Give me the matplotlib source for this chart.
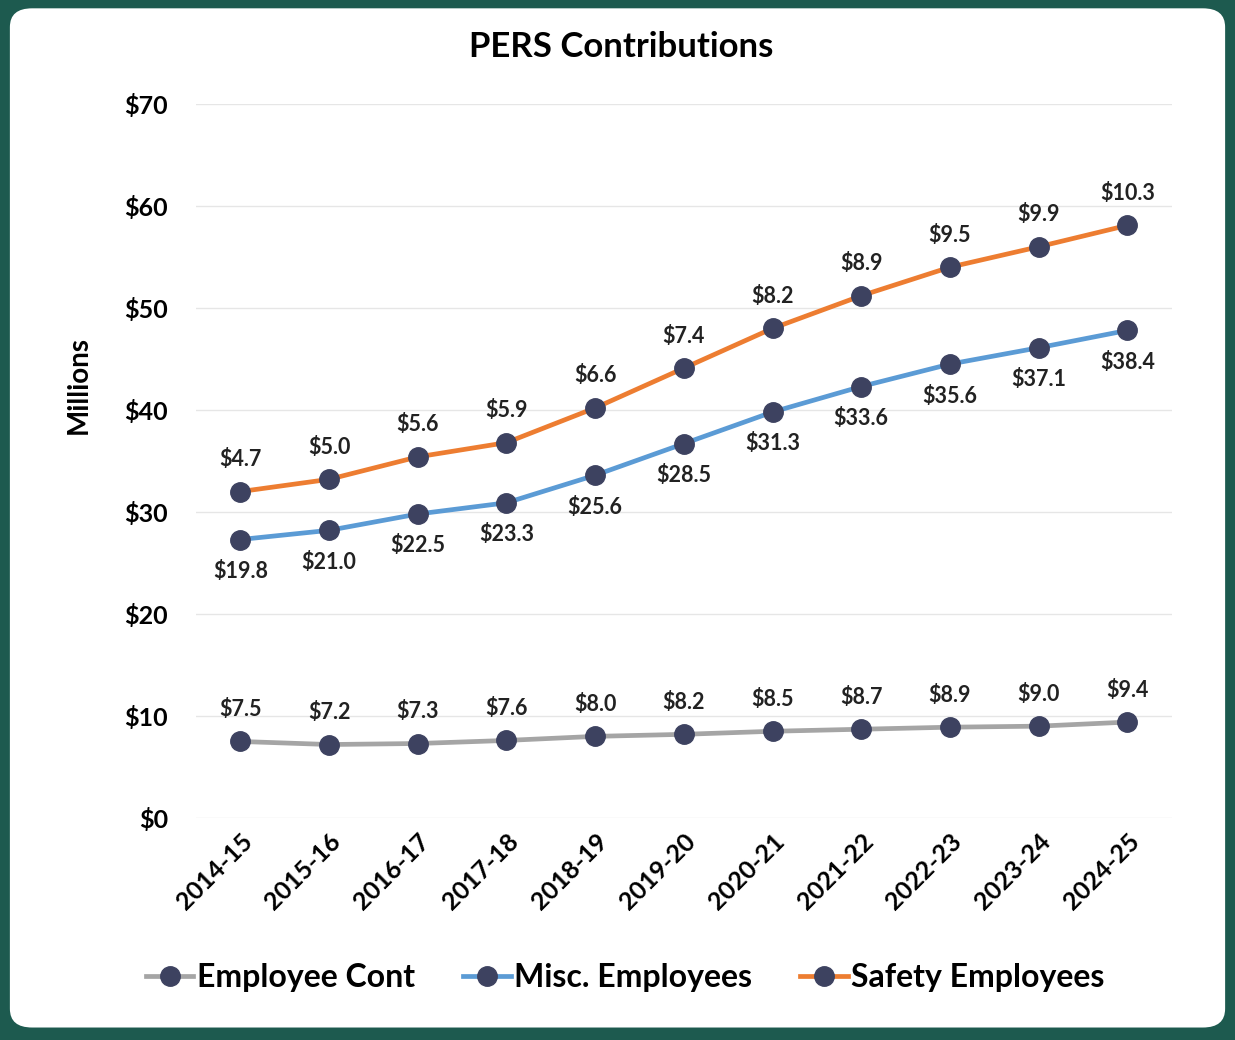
import matplotlib
matplotlib.use('Agg')
from matplotlib import pyplot as plt
from matplotlib.patches import FancyBboxPatch

plt.rcParams['font.family'] = ['Lato', 'DejaVu Sans']
plt.rcParams['font.weight'] = 'bold'

years = ['2014-15', '2015-16', '2016-17', '2017-18', '2018-19', '2019-20',
         '2020-21', '2021-22', '2022-23', '2023-24', '2024-25']
employee_cont = [7.5, 7.2, 7.3, 7.6, 8.0, 8.2, 8.5, 8.7, 8.9, 9.0, 9.4]
misc_employees = [19.8, 21.0, 22.5, 23.3, 25.6, 28.5, 31.3, 33.6, 35.6, 37.1, 38.4]
safety_employees = [4.7, 5.0, 5.6, 5.9, 6.6, 7.4, 8.2, 8.9, 9.5, 9.9, 10.3]

# stacked line chart (как в Excel)
misc_top = [a + b for a, b in zip(employee_cont, misc_employees)]
safety_top = [a + b for a, b in zip(misc_top, safety_employees)]

fig = plt.figure(figsize=(12.35, 10.4), dpi=100)
fig.patch.set_facecolor('#1d5a4f')
card = FancyBboxPatch((0.008, 0.012), 0.984, 0.98,
                      boxstyle='round,pad=0,rounding_size=0.018',
                      transform=fig.transFigure, facecolor='white',
                      edgecolor='none', zorder=-5)
fig.patches.append(card)

ax = fig.add_axes([0.1587, 0.2135, 0.790, 0.6865])
ax.set_facecolor('none')
ax.set_zorder(2)
x = range(len(years))
mk = '#3d4260'

series = [
    ('Employee Cont', employee_cont, employee_cont, '#a5a5a5', 1),
    ('Misc. Employees', misc_top, misc_employees, '#5b9bd5', -1),
    ('Safety Employees', safety_top, safety_employees, '#ed7d31', 1),
]
for name, ys, vals, col, side in series:
    ax.plot(x, ys, color=col, linewidth=3.4, marker='o', markersize=14,
            markerfacecolor=mk, markeredgecolor=mk, label=name, zorder=3)
    for xi, yi, v in zip(x, ys, vals):
        ax.annotate('${:.1f}'.format(v), (xi, yi), xytext=(0, 23 * side),
                    textcoords='offset points', ha='center', va='center',
                    fontsize=15.5, fontweight='bold', color='#222222')

ax.set_xlim(-0.5, len(years) - 0.5)
ax.set_ylim(0, 70)
ax.set_yticks(range(0, 71, 10))
ax.set_yticklabels(['${}'.format(v) for v in range(0, 71, 10)])
ax.set_xticks(list(x))
ax.set_xticklabels(years, rotation=45, ha='right', rotation_mode='anchor')
ax.tick_params(axis='y', length=0, pad=20, labelsize=18)
ax.tick_params(axis='x', length=0, pad=8, labelsize=18)
ax.grid(axis='y', color='#e6e6e6', linewidth=1)
ax.set_axisbelow(True)
for s in ax.spines.values():
    s.set_visible(False)

ax.set_ylabel('Millions', fontsize=20, fontweight='bold')
ax.yaxis.set_label_coords(-0.107, 0.606)
fig.text(0.503, 0.955, 'PERS Contributions', ha='center', va='center',
         fontsize=25, fontweight='bold')

fig.legend(loc='center', bbox_to_anchor=(0.506, 0.06), ncol=3, frameon=False,
           handlelength=1.5, handletextpad=0.1, columnspacing=1.5,
           prop={'weight': 'bold', 'size': 23})

fig.savefig('out.png', dpi=100, facecolor=fig.get_facecolor())
